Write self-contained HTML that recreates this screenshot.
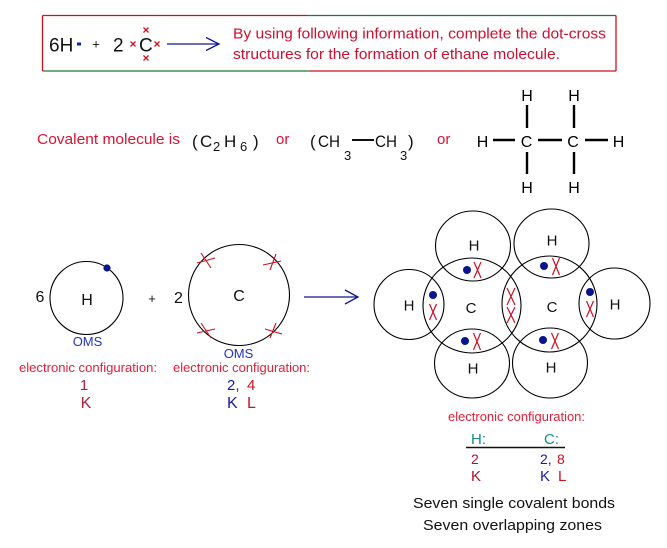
<!DOCTYPE html>
<html><head><meta charset="utf-8"><style>
html,body{margin:0;padding:0;background:#fff;}
svg{display:block;}
text{font-family:"Liberation Sans",Arial,sans-serif;}
</style></head><body>
<svg width="667" height="548" viewBox="0 0 667 548" xmlns="http://www.w3.org/2000/svg">
<rect width="667" height="548" fill="#fff"/>
<!-- top box -->
<g stroke-width="1.3" fill="none">
<line x1="42.5" y1="15.5" x2="307" y2="15.5" stroke="#cc1020"/>
<line x1="307" y1="15.5" x2="616" y2="15.5" stroke="#1f7a30"/>
<line x1="616" y1="15.5" x2="616" y2="71" stroke="#cc1020"/>
<line x1="42.5" y1="71" x2="310" y2="71" stroke="#1f7a30"/>
<line x1="310" y1="71" x2="616" y2="71" stroke="#cc1020"/>
<line x1="42.5" y1="15.5" x2="42.5" y2="71" stroke="#cc1020"/>
</g>
<text x="49" y="51.5" font-size="19" fill="#111">6H</text>
<rect x="77" y="42.5" width="4" height="3" fill="#1020b0"/>
<text x="96" y="48.5" font-size="13" fill="#111" text-anchor="middle">+</text>
<text x="113" y="51.5" font-size="19" fill="#111">2</text>
<text x="139" y="51.5" font-size="19" fill="#111">C</text>
<g stroke="#cc1020" stroke-width="1.3">
<path d="M130.5 41.5 L135.5 46.5 M135.5 41.5 L130.5 46.5"/>
<path d="M154.5 41.5 L159.5 46.5 M159.5 41.5 L154.5 46.5"/>
<path d="M143.5 27.5 L148.5 32.5 M148.5 27.5 L143.5 32.5"/>
<path d="M143.5 55.5 L148.5 60.5 M148.5 55.5 L143.5 60.5"/>
</g>
<g stroke="#101890" stroke-width="1.3" fill="none">
<line x1="167" y1="44" x2="219" y2="44"/>
<polyline points="206,37.5 219,44 206,50.5"/>
</g>
<text x="233" y="38.5" font-size="15" fill="#cc1030" textLength="373" lengthAdjust="spacingAndGlyphs">By using following information, complete the dot-cross</text>
<text x="233" y="59" font-size="15" fill="#cc1030" textLength="327" lengthAdjust="spacingAndGlyphs">structures for the formation of ethane molecule.</text>

<!-- formula row -->
<text x="37" y="144" font-size="15" fill="#dd1133" textLength="143" lengthAdjust="spacingAndGlyphs">Covalent molecule is</text>
<g fill="#111">
<text x="192" y="147" font-size="17">(</text>
<text x="200" y="147" font-size="17">C</text>
<text x="213" y="151" font-size="13">2</text>
<text x="224" y="147" font-size="17">H</text>
<text x="240" y="151" font-size="13">6</text>
<text x="253" y="147" font-size="17">)</text>
</g>
<text x="276" y="144" font-size="15" fill="#dd1133">or</text>
<g fill="#111">
<text x="310" y="147" font-size="17">(</text>
<text x="318" y="147" font-size="17" textLength="22" lengthAdjust="spacingAndGlyphs">CH</text>
<text x="344" y="160" font-size="13">3</text>
<text x="375" y="147" font-size="17" textLength="22" lengthAdjust="spacingAndGlyphs">CH</text>
<text x="400" y="160" font-size="13">3</text>
<text x="408" y="147" font-size="17">)</text>
</g>
<line x1="352" y1="140" x2="374" y2="140" stroke="#111" stroke-width="2"/>
<text x="437" y="144" font-size="15" fill="#dd1133">or</text>

<!-- structural formula -->
<g fill="#000" font-size="16" text-anchor="middle">
<text x="482.5" y="147">H</text>
<text x="526.5" y="147">C</text>
<text x="573" y="147">C</text>
<text x="618.5" y="147">H</text>
<text x="527" y="101">H</text>
<text x="574" y="101">H</text>
<text x="527" y="193">H</text>
<text x="574" y="193">H</text>
</g>
<g stroke="#000" stroke-width="2.4">
<line x1="493" y1="140" x2="515" y2="140"/>
<line x1="538" y1="140" x2="562" y2="140"/>
<line x1="585" y1="140" x2="608" y2="140"/>
<line x1="527" y1="105" x2="527" y2="128"/>
<line x1="527" y1="152" x2="527" y2="174"/>
<line x1="574" y1="105" x2="574" y2="128"/>
<line x1="574" y1="152" x2="574" y2="174"/>
</g>

<!-- left atoms -->
<circle cx="86.5" cy="298" r="36.5" fill="none" stroke="#000" stroke-width="1.1"/>
<circle cx="107" cy="268" r="3.6" fill="#0a148c"/>
<text x="40" y="302" font-size="16" fill="#111" text-anchor="middle">6</text>
<text x="87" y="305" font-size="16" fill="#111" text-anchor="middle">H</text>
<text x="152" y="303" font-size="13" fill="#111" text-anchor="middle">+</text>
<text x="178.5" y="303" font-size="16" fill="#111" text-anchor="middle">2</text>
<circle cx="239" cy="295" r="50.5" fill="none" stroke="#000" stroke-width="1.1"/>
<text x="239" y="301" font-size="16" fill="#111" text-anchor="middle">C</text>
<g stroke="#cc1020" stroke-width="1.1">
<path d="M197 263 L215 258 M201 253 L211 268"/>
<path d="M263 265 L281 261 M276 254 L270 270"/>
<path d="M197 333 L215 329 M201 323 L211 338"/>
<path d="M265 329 L282 334 M276 323 L270 338"/>
</g>
<text x="87.5" y="346" font-size="13" fill="#2233bb" text-anchor="middle">OMS</text>
<text x="238.5" y="358" font-size="13" fill="#2233bb" text-anchor="middle">OMS</text>
<text x="19" y="372" font-size="13" fill="#e0203a" textLength="138" lengthAdjust="spacingAndGlyphs">electronic configuration:</text>
<text x="173" y="372" font-size="13" fill="#e0203a" textLength="137" lengthAdjust="spacingAndGlyphs">electronic configuration:</text>
<text x="84" y="390" font-size="15" fill="#b0203a" text-anchor="middle">1</text>
<text x="86" y="408" font-size="16" fill="#b0203a" text-anchor="middle">K</text>
<text x="227" y="390" font-size="15" fill="#1a1aa8">2,</text>
<text x="247" y="390" font-size="15" fill="#cc1020">4</text>
<text x="227" y="408" font-size="16" fill="#1a1aa8">K</text>
<text x="247" y="408" font-size="16" fill="#cc1020">L</text>
<g stroke="#101890" stroke-width="1.3" fill="none">
<line x1="304" y1="297" x2="358" y2="297"/>
<polyline points="345,290 358,297 345,304"/>
</g>

<!-- ethane overlap diagram -->
<g fill="none" stroke="#000" stroke-width="1.1">
<ellipse cx="473" cy="246" rx="37.5" ry="35"/>
<ellipse cx="551.5" cy="243.5" rx="37.5" ry="34.5"/>
<circle cx="409" cy="304.5" r="35"/>
<circle cx="614.5" cy="303.5" r="35.5"/>
<ellipse cx="472" cy="363.5" rx="37.5" ry="34.5"/>
<ellipse cx="550" cy="363" rx="37.5" ry="35"/>
<ellipse cx="472" cy="305.5" rx="49" ry="47.5"/>
<ellipse cx="549.5" cy="304" rx="47.5" ry="48"/>
</g>
<g font-size="15" fill="#111" text-anchor="middle">
<text x="474" y="250.5">H</text>
<text x="552" y="245.5">H</text>
<text x="409" y="310.5">H</text>
<text x="615" y="309.5">H</text>
<text x="473" y="373.5">H</text>
<text x="551" y="372.5">H</text>
<text x="471" y="313">C</text>
<text x="552" y="312">C</text>
</g>
<g fill="#0a148c">
<circle cx="467" cy="270" r="4"/>
<circle cx="544" cy="266" r="4"/>
<circle cx="433" cy="295" r="4"/>
<circle cx="590" cy="292" r="4"/>
<circle cx="465" cy="341" r="4"/>
<circle cx="543" cy="340" r="4"/>
</g>
<g stroke="#cc1020" stroke-width="1.2">
<path d="M474 262 L481 278 M481 262 L474 278"/>
<path d="M552.5 258 L559.5 275 M559.5 258 L552.5 275"/>
<path d="M429.5 304 L436.5 320 M436.5 304 L429.5 320"/>
<path d="M586.5 301 L593.5 317 M593.5 301 L586.5 317"/>
<path d="M473.5 333 L480.5 350 M480.5 333 L473.5 350"/>
<path d="M551.5 333 L558.5 349 M558.5 333 L551.5 349"/>
<path d="M507 288 L515 305 M515 288 L507 305"/>
<path d="M507 307 L515 323 M515 307 L507 323"/>
</g>

<!-- bottom right config -->
<text x="448" y="421" font-size="13" fill="#e0203a" textLength="137" lengthAdjust="spacingAndGlyphs">electronic configuration:</text>
<text x="471" y="444" font-size="15" fill="#1a8a8a">H:</text>
<text x="544" y="444" font-size="15" fill="#1a8a8a">C:</text>
<line x1="466" y1="447.5" x2="565" y2="447.5" stroke="#111" stroke-width="1.5"/>
<text x="471" y="464" font-size="14" fill="#b0102a">2</text>
<text x="540" y="464" font-size="14" fill="#1a1aa8">2,</text>
<text x="557" y="464" font-size="14" fill="#cc1020">8</text>
<text x="471" y="481" font-size="15" fill="#b0102a">K</text>
<text x="540" y="481" font-size="15" fill="#1a1aa8">K</text>
<text x="558" y="481" font-size="15" fill="#cc1020">L</text>
<text x="413" y="508" font-size="15" fill="#111" textLength="202" lengthAdjust="spacingAndGlyphs">Seven single covalent bonds</text>
<text x="423" y="530" font-size="15" fill="#111" textLength="179" lengthAdjust="spacingAndGlyphs">Seven overlapping zones</text>
</svg>
</body></html>
